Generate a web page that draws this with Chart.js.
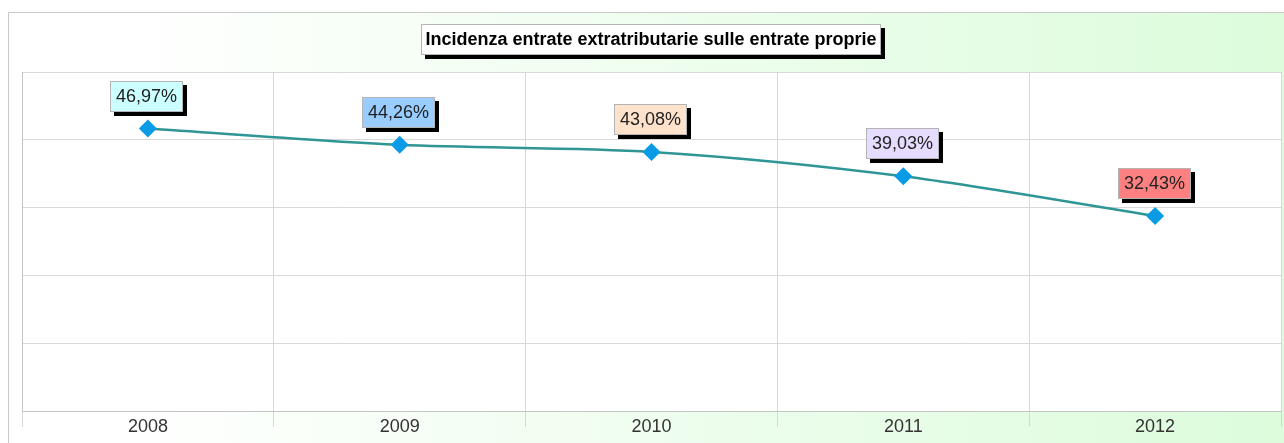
<!DOCTYPE html>
<html>
<head>
<meta charset="utf-8">
<script src="https://cdn.jsdelivr.net/npm/chart.js@4.4.0/dist/chart.umd.min.js"></script>
<style>
  html, body { margin: 0; padding: 0; background: #fff; }
  canvas { display: block; }
</style>
</head>
<body>
<canvas id="chart" width="1284" height="443"></canvas>
<script>
const chartTitle = 'Incidenza entrate extratributarie sulle entrate proprie';
const years = ['2008', '2009', '2010', '2011', '2012'];
const incidence = [46.97, 44.26, 43.08, 39.03, 32.43];
const labelColors = ['#ccffff', '#99ccff', '#ffe2cc', '#e6dcff', '#ff8080'];
const yMax = 56.364; // axis top, 5 equal bands
const yBands = 5;

function fmt(v) {
  return v.toFixed(2).replace('.', ',') + '%';
}

// background, frame and white plot area
const backdrop = {
  id: 'backdrop',
  beforeDraw(chart) {
    const { ctx, width, height, chartArea } = chart;
    ctx.save();
    ctx.fillStyle = '#fff';
    ctx.fillRect(0, 0, width, height);
    const g = ctx.createLinearGradient(110, 0, width, 0);
    g.addColorStop(0, '#ffffff');
    g.addColorStop(1, '#dcfcdc');
    ctx.fillStyle = g;
    ctx.fillRect(8, 12, width - 8, height - 12);
    ctx.strokeStyle = '#c8c8c8';
    ctx.lineWidth = 1;
    ctx.beginPath();
    ctx.moveTo(8.5, height);
    ctx.lineTo(8.5, 12.5);
    ctx.lineTo(width, 12.5);
    ctx.stroke();
    ctx.fillStyle = '#fff';
    ctx.fillRect(chartArea.left, chartArea.top, chartArea.right - chartArea.left, chartArea.bottom - chartArea.top);
    ctx.restore();
  }
};

function shadowBox(ctx, x, y, w, h, fill) {
  ctx.fillStyle = '#000';
  ctx.fillRect(x + 4, y + 4, w, h);
  ctx.fillStyle = fill;
  ctx.fillRect(x, y, w, h);
  ctx.strokeStyle = '#b4b4b4';
  ctx.lineWidth = 1;
  ctx.strokeRect(x + 0.5, y + 0.5, w - 1, h - 1);
}

// value labels and title box
const boxes = {
  id: 'boxes',
  afterDatasetsDraw(chart) {
    const { ctx } = chart;
    const pts = chart.getDatasetMeta(0).data;
    ctx.save();
    ctx.font = '18px "Liberation Sans", Arial, sans-serif';
    ctx.textAlign = 'center';
    ctx.textBaseline = 'middle';
    pts.forEach((p, i) => {
      const txt = fmt(incidence[i]);
      const w = Math.round(ctx.measureText(txt).width + 12);
      const h = 31;
      const x = Math.round(p.x - 1 - w / 2);
      const y = Math.round(p.y - 17 - h);
      shadowBox(ctx, x, y, w, h, labelColors[i]);
      ctx.fillStyle = '#222';
      ctx.fillText(txt, x + w / 2, y + h / 2 + 1);
    });

    const ca = chart.chartArea;
    ctx.font = 'bold 18px "Liberation Sans", Arial, sans-serif';
    const tw = Math.round(ctx.measureText(chartTitle).width + 9);
    const th = 31;
    const tx = Math.round((ca.left + ca.right) / 2 - 1 - tw / 2);
    const ty = 24;
    shadowBox(ctx, tx, ty, tw, th, '#fff');
    ctx.fillStyle = '#000';
    ctx.fillText(chartTitle, tx + tw / 2, ty + th / 2 + 1);
    ctx.restore();
  }
};

new Chart(document.getElementById('chart'), {
  type: 'line',
  data: {
    labels: years,
    datasets: [{
      data: incidence,
      borderColor: '#2f9595',
      borderWidth: 2.5,
      tension: 0.3,
      pointStyle: 'rectRot',
      pointRadius: 9,
      pointHoverRadius: 9,
      pointBackgroundColor: '#0a9be6',
      pointBorderColor: '#0a9be6',
      pointBorderWidth: 0
    }]
  },
  options: {
    responsive: false,
    animation: false,
    events: [],
    layout: { autoPadding: false, padding: { left: 22, top: 72, right: 3, bottom: 0 } },
    plugins: {
      legend: { display: false },
      tooltip: { enabled: false }
    },
    scales: {
      x: {
        offset: true,
        afterFit(axis) {
          axis.height = 32;
          axis.paddingLeft = 0;
          axis.paddingRight = 0;
        },
        grid: { offset: true, color: '#d8d8d8', tickLength: 16 },
        border: { color: '#c4c4c4' },
        ticks: {
          color: '#333',
          padding: -11,
          font: { family: '"Liberation Sans", Arial, sans-serif', size: 18 }
        }
      },
      y: {
        min: 0,
        max: yMax,
        afterFit(axis) { axis.width = 0; },
        afterBuildTicks(axis) {
          axis.ticks = Array.from({ length: yBands + 1 }, (_, i) => ({ value: i * yMax / yBands }));
        },
        grid: { color: '#d8d8d8', drawTicks: false },
        border: { color: '#c4c4c4' },
        ticks: { display: false }
      }
    }
  },
  plugins: [backdrop, boxes]
});
</script>
</body>
</html>
